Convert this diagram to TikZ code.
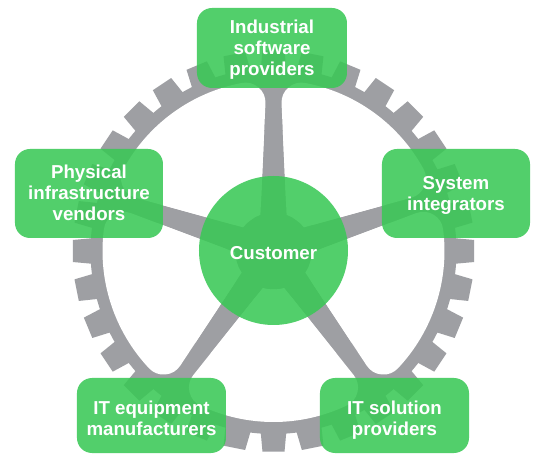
\documentclass[tikz,border=0pt]{standalone}
\usepackage{fontspec}
\setmainfont{Liberation Sans}
\definecolor{gearc}{RGB}{158,159,163}
\definecolor{boxg}{RGB}{57,200,85}
\newcommand\boxtext[2]{\raisebox{-#1}[\height][\depth]{\begin{tabular}{@{}c@{}}#2\end{tabular}}}
\begin{document}
\begin{tikzpicture}[x=1pt,y=1pt,
  box/.style={rectangle, rounded corners=15pt, fill=boxg, fill opacity=0.87, text opacity=1,
    text=white, inner sep=0pt, font=\fontsize{18.7}{21}\selectfont\bfseries},
  hubc/.style={circle, fill=boxg, fill opacity=0.87, text opacity=1, text=white,
    inner sep=0pt, minimum size=149pt, font=\fontsize{18.7}{21}\selectfont\bfseries}]
\fill[white] (-273.5,-204) rectangle (262.5,251);
\useasboundingbox (-273.5,-204) rectangle (262.5,251);
% gear body
\fill[gearc] (0,0) circle (183);
\foreach \k in {0,...,31}{
  \pgfmathsetmacro\a{\k*11.25}
  \fill[gearc] (\a-4.07:181) -- (\a-3.14:201) -- (\a+3.14:201) -- (\a+4.07:181) -- cycle;
}
% openings between the five spokes
\foreach \p in {18,90,162,234,306}{
  \filldraw[white, line width=40pt, line join=round]
    (\p+33.83:58.5) -- (\p+10.70:151)
    arc[start angle=\p+10.70, end angle=\p+61.30, radius=151]
    -- (\p+38.17:58.5)
    arc[start angle=\p+38.17, end angle=\p+33.83, radius=58.5] -- cycle;
  \fill[white] (\p+19.9:38.5) -- (\p+4.45:120.4) -- (\p+67.55:120.4) -- (\p+52.1:38.5)
    arc[start angle=\p+52.1, end angle=\p+19.9, radius=38.5] -- cycle;
}
% nodes
\node[hubc] (cust) at (0,0.5) {\boxtext{5pt}{Customer}};
\node[box, minimum width=150pt, minimum height=80pt] (ind) at (-1.5,203) {\boxtext{2.3pt}{Industrial\\software\\providers}};
\node[box, minimum width=148pt, minimum height=89pt] (phys) at (-184.5,57.5) {\boxtext{2.3pt}{Physical\\infrastructure\\vendors}};
\node[box, minimum width=148pt, minimum height=89pt] (sys) at (182.5,57.5) {\boxtext{2.8pt}{System\\integrators}};
\node[box, minimum width=149pt, minimum height=75pt] (itm) at (-122,-164.5) {\boxtext{5pt}{IT equipment\\manufacturers}};
\node[box, minimum width=149pt, minimum height=75pt] (its) at (121,-164.5) {\boxtext{5pt}{IT solution\\providers}};
\end{tikzpicture}
\end{document}
